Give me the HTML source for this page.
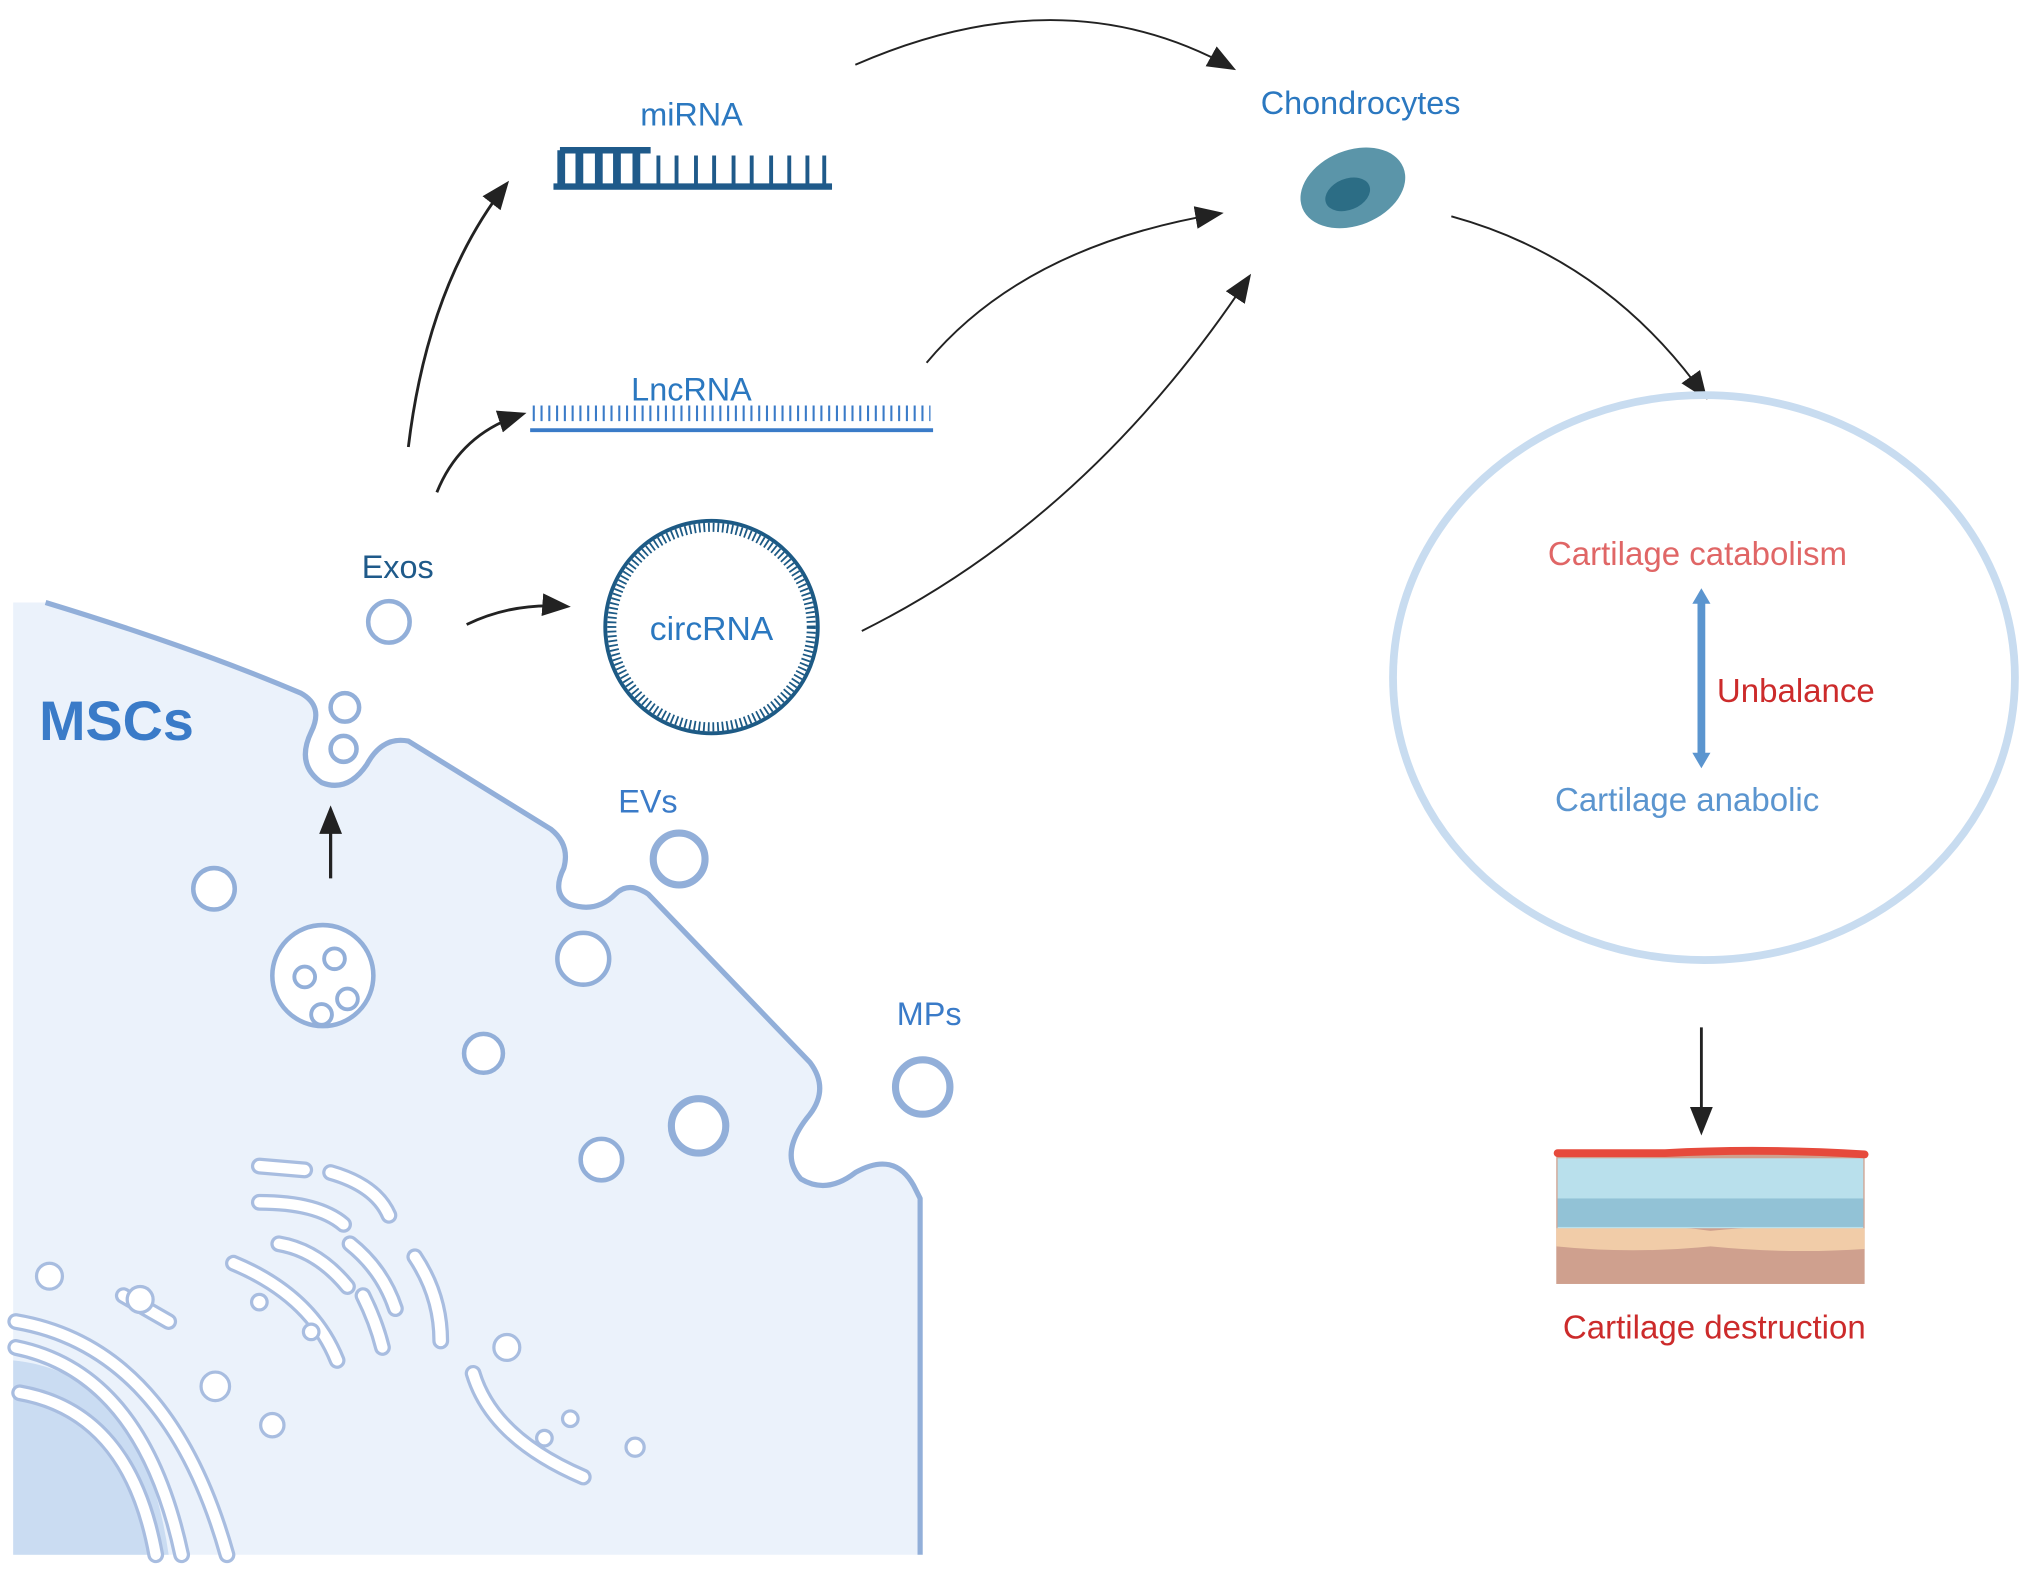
<!DOCTYPE html>
<html><head><meta charset="utf-8"><style>
html,body{margin:0;padding:0;background:#fff;}
svg{display:block;}
text{font-family:"Liberation Sans",Arial,sans-serif;}
</style></head><body>
<svg width="2032" height="1569" viewBox="0 0 1568 1211" xmlns="http://www.w3.org/2000/svg">
<defs>
<marker id="ah" viewBox="0 0 10 10" refX="8" refY="5" markerWidth="7" markerHeight="7" orient="auto" markerUnits="userSpaceOnUse">
<path d="M0,0 L10,5 L0,10 Z" fill="#222"/></marker>
<marker id="ab" viewBox="0 0 10 10" refX="8" refY="5" markerWidth="22" markerHeight="22" orient="auto" markerUnits="userSpaceOnUse">
<path d="M0,1 L10,5 L0,9 Z" fill="#222"/></marker>
</defs>
<!-- cell -->
<path d="M10,465 L35,465 Q150,500 232,535 Q250,545 240,565 Q228,590 248,604 Q268,612 283,590 Q295,568 315,572 L425,640 Q440,652 435,670 Q425,690 440,698 Q460,705 475,690 Q485,680 500,690 L625,820 Q640,840 625,860 Q600,890 618,910 Q638,922 660,905 Q690,888 705,915 L710,925 L710,1200 L10,1200 Z" fill="#ebf2fb"/>
<path d="M35,465 Q150,500 232,535 Q250,545 240,565 Q228,590 248,604 Q268,612 283,590 Q295,568 315,572 L425,640 Q440,652 435,670 Q425,690 440,698 Q460,705 475,690 Q485,680 500,690 L625,820 Q640,840 625,860 Q600,890 618,910 Q638,922 660,905 Q690,888 705,915 L710,925 L710,1200" fill="none" stroke="#92afd9" stroke-width="4" stroke-linejoin="round"/>
<path d="M10,1050 Q110,1060 130,1200 L10,1200 Z" fill="#cadcf2"/>
<g fill="none" stroke="#a8bde0" stroke-width="13" stroke-linecap="round">
<path d="M12,1020 Q130,1040 175,1200"/>
<path d="M12,1040 Q110,1060 140,1200"/>
<path d="M15,1075 Q100,1090 120,1200"/>
<path d="M200,900 L235,903"/><path d="M255,905 Q290,915 300,938"/>
<path d="M200,928 Q245,928 265,945"/><path d="M270,960 Q295,980 305,1010"/>
<path d="M215,960 Q245,965 268,993"/><path d="M280,1000 Q290,1020 295,1040"/>
<path d="M320,970 Q340,1000 340,1035"/>
<path d="M180,975 Q240,1000 260,1050"/>
<path d="M365,1060 Q380,1110 450,1140"/>
<path d="M95,1000 L130,1020"/>
</g>
<g fill="none" stroke="#fff" stroke-width="8" stroke-linecap="round">
<path d="M12,1020 Q130,1040 175,1200"/>
<path d="M12,1040 Q110,1060 140,1200"/>
<path d="M15,1075 Q100,1090 120,1200"/>
<path d="M200,900 L235,903"/><path d="M255,905 Q290,915 300,938"/>
<path d="M200,928 Q245,928 265,945"/><path d="M270,960 Q295,980 305,1010"/>
<path d="M215,960 Q245,965 268,993"/><path d="M280,1000 Q290,1020 295,1040"/>
<path d="M320,970 Q340,1000 340,1035"/>
<path d="M180,975 Q240,1000 260,1050"/>
<path d="M365,1060 Q380,1110 450,1140"/>
<path d="M95,1000 L130,1020"/>
</g>
<g fill="#fff" stroke="#a8bde0" stroke-width="2.5">
<circle cx="38" cy="985" r="10"/><circle cx="108" cy="1003" r="10"/><circle cx="166" cy="1070" r="11"/><circle cx="210" cy="1100" r="9"/>
<circle cx="391" cy="1040" r="10"/><circle cx="490" cy="1117" r="7"/><circle cx="440" cy="1095" r="6"/><circle cx="420" cy="1110" r="6"/><circle cx="200" cy="1005" r="6"/><circle cx="240" cy="1028" r="6"/>
</g>
<!-- vesicles -->
<g fill="#fff" stroke="#92afd9" stroke-width="3.5">
<circle cx="266" cy="546" r="11"/><circle cx="265" cy="578" r="10"/>
<circle cx="300" cy="480" r="16"/>
<circle cx="165" cy="686" r="16"/>
<circle cx="249" cy="753" r="39"/>
<circle cx="450" cy="740" r="20"/>
<circle cx="373" cy="813" r="15"/>
<circle cx="464" cy="895" r="16"/>
</g>
<g fill="none" stroke="#92afd9" stroke-width="3">
<circle cx="235" cy="754" r="8"/><circle cx="258" cy="740" r="8"/><circle cx="268" cy="771" r="8"/><circle cx="248" cy="783" r="8"/>
</g>
<g fill="#fff" stroke="#92afd9" stroke-width="5.5">
<circle cx="524" cy="663" r="20"/><circle cx="539" cy="869" r="21"/><circle cx="712" cy="839" r="21"/>
</g>
<text x="30" y="571" font-size="43" font-weight="bold" fill="#3a7bc8">MSCs</text>
<text x="279" y="446" font-size="25" fill="#1f5a8a">Exos</text>
<text x="477" y="627" font-size="25" fill="#3a7bc8">EVs</text>
<text x="692" y="791" font-size="25" fill="#3a7bc8">MPs</text>
<!-- small arrow -->
<line x1="255" y1="678" x2="255" y2="626" stroke="#222" stroke-width="2.5" marker-end="url(#ab)"/>
<!-- arrows -->
<g fill="none" stroke="#222" stroke-width="2.2">
<path d="M315,345 Q330,220 390,143" marker-end="url(#ab)"/>
<path d="M337,380 Q355,335 402,320" marker-end="url(#ab)"/>
<path d="M360,482 Q395,465 436,468" marker-end="url(#ab)"/>
<path d="M660,50 Q820,-20 950,52" marker-end="url(#ab)" stroke-width="1.5"/>
<path d="M715,280 Q790,190 940,165" marker-end="url(#ab)" stroke-width="1.5"/>
<path d="M665,487 Q840,400 963,215" marker-end="url(#ab)" stroke-width="1.5"/>
<path d="M1120,167 Q1240,200 1315,305" marker-end="url(#ab)" stroke-width="1.5"/>
<path d="M1313,793 L1313,872" marker-end="url(#ab)"/>
</g>
<!-- miRNA -->
<text x="494" y="97" font-size="25" fill="#2b78c0">miRNA</text>
<g stroke="#1f5a8a">
<line x1="427" y1="144" x2="642" y2="144" stroke-width="5"/>
<line x1="432" y1="116" x2="502" y2="116" stroke-width="5"/>
<path d="M433,116V144M447,116V144M462,116V144M476,116V144M491,116V144" stroke-width="6"/>
<path d="M508,120V144M522,120V144M537,120V144M551,120V144M566,120V144M580,120V144M595,120V144M609,120V144M623,120V144M636,120V144" stroke-width="3"/>
</g>
<!-- LncRNA -->
<text x="487" y="309" font-size="25" fill="#2b78c0">LncRNA</text>
<line x1="409" y1="332" x2="720" y2="332" stroke="#3a7bc8" stroke-width="3"/>
<line x1="411" y1="319" x2="718" y2="319" stroke="#3a7bc8" stroke-width="12" stroke-dasharray="1.6 4.4"/>
<!-- circRNA -->
<circle cx="549" cy="484" r="82" fill="#fff" stroke="#1d5a85" stroke-width="3"/>
<circle cx="549" cy="484" r="77" fill="none" stroke="#1d5a85" stroke-width="7" stroke-dasharray="1.4 2.2"/>
<text x="549" y="494" font-size="26" fill="#2b78c0" text-anchor="middle">circRNA</text>
<!-- chondrocyte -->
<text x="1050" y="88" font-size="25" fill="#2b78c0" text-anchor="middle">Chondrocytes</text>
<ellipse cx="1044" cy="145" rx="42" ry="29" transform="rotate(-22 1044 145)" fill="#5b95a9"/>
<ellipse cx="1040" cy="150" rx="18" ry="12" transform="rotate(-22 1040 150)" fill="#2c6d85"/>
<!-- big circle -->
<ellipse cx="1315" cy="523" rx="240" ry="218" fill="none" stroke="#c8dcf0" stroke-width="6"/>
<text x="1310" y="436" font-size="25.5" fill="#e06666" text-anchor="middle">Cartilage catabolism</text>
<line x1="1313" y1="462" x2="1313" y2="585" stroke="#5b95cf" stroke-width="6"/>
<path d="M1306,466 L1313,454 L1320,466 Z M1306,581 L1313,593 L1320,581 Z" fill="#5b95cf"/>
<text x="1325" y="542" font-size="25.5" fill="#cc2b2b">Unbalance</text>
<text x="1302" y="626" font-size="25.5" fill="#5b95cf" text-anchor="middle">Cartilage anabolic</text>
<!-- cartilage -->
<rect x="1201" y="890" width="238" height="101" fill="#cfa08e"/>
<path d="M1201,948 Q1260,942 1320,950 Q1380,944 1439,948 L1439,964 Q1380,968 1320,962 Q1260,968 1201,962 Z" fill="#f1cca8"/>
<rect x="1202" y="894" width="236" height="54" fill="#b9e0ec"/>
<rect x="1202" y="925" width="236" height="22" fill="#92c2d6"/>
<path d="M1202,890 L1285,890 Q1360,886 1439,891" fill="none" stroke="#e64a3c" stroke-width="6" stroke-linecap="round"/>
<text x="1323" y="1033" font-size="25.5" fill="#cc2b2b" text-anchor="middle">Cartilage destruction</text>
</svg>
</body></html>
